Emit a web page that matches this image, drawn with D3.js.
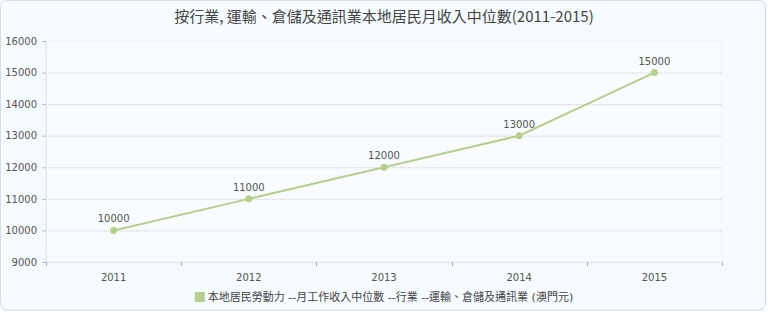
<!DOCTYPE html>
<html><head><meta charset="utf-8">
<script src="https://cdn.jsdelivr.net/npm/d3@7"></script>
<style>
html,body{margin:0;padding:0;background:#fff;}
svg{display:block;font-family:"DejaVu Sans","Noto Sans CJK TC",sans-serif;}
</style></head><body>
<svg id="c" width="768" height="312"></svg>
<script>
const categories = ["2011","2012","2013","2014","2015"];
const values = [10000,11000,12000,13000,15000];
const yTicks = [9000,10000,11000,12000,13000,14000,15000,16000];
const title = "按行業, 運輸、倉儲及通訊業本地居民月收入中位數(2011-2015)";
const seriesName = "本地居民勞動力 --月工作收入中位數 --行業 --運輸、倉儲及通訊業 (澳門元)";

const svg = d3.select("#c");
const W = 768, H = 312;
const m = {l:46, r:46, t:41, b:50};
const color = "#b6cf8e";
const numFont = "DejaVu Sans, sans-serif";

// background card
svg.append("rect").attr("x",0.5).attr("y",0.5).attr("width",W-3).attr("height",H-3)
  .attr("rx",6).attr("fill","#f5fbfe").attr("stroke","#d5dde2");
svg.append("rect").attr("x",3).attr("y",H-3).attr("width",W-8).attr("height",2).attr("fill","#e3e8eb");

const x = d3.scaleBand().domain(categories).range([m.l, W-m.r]);
const y = d3.scaleLinear().domain([9000,16000]).range([H-m.b, m.t]);

// plot background
svg.append("rect").attr("x",m.l).attr("y",m.t).attr("width",W-m.l-m.r).attr("height",H-m.t-m.b)
  .attr("fill","#f8fcfe").attr("stroke","#eef2f4");

// gridlines
svg.append("g").selectAll("line").data(yTicks.slice(1,-1)).join("line")
  .attr("x1",m.l).attr("x2",W-m.r).attr("y1",d=>y(d)+0.5).attr("y2",d=>y(d)+0.5)
  .attr("stroke","#c8c8c8").attr("stroke-dasharray","1,1");

// y axis
const ya = svg.append("g").attr("transform",`translate(${m.l},0)`)
  .call(d3.axisLeft(y).tickValues(yTicks).tickSize(4).tickPadding(5).tickFormat(d3.format("d")));
ya.select(".domain").remove();
ya.selectAll("line").attr("stroke","#bbb");
ya.selectAll("text").attr("fill","#555").attr("font-size",10).attr("font-family",numFont);
// minor ticks
const minor = d3.range(9000,16000,200).filter(v=>v%1000!==0);
svg.append("g").selectAll("line").data(minor).join("line")
  .attr("x1",m.l-1).attr("x2",m.l+1).attr("y1",d=>y(d)+0.5).attr("y2",d=>y(d)+0.5)
  .attr("stroke","#ccc");
svg.append("line").attr("x1",m.l+0.5).attr("x2",m.l+0.5).attr("y1",m.t).attr("y2",H-m.b)
  .attr("stroke","#e4e8ea");

// x axis
const xa = svg.append("g").attr("transform",`translate(0,${H-m.b})`)
  .call(d3.axisBottom(x).tickSize(0).tickPadding(12));
xa.select(".domain").attr("stroke","#e0e4e6");
xa.selectAll("text").attr("fill","#555").attr("font-size",10).attr("font-family",numFont);
const bounds = categories.map(c=>x(c)).concat([x(categories[categories.length-1])+x.bandwidth()]);
svg.append("g").selectAll("line").data(bounds).join("line")
  .attr("x1",d=>Math.round(d)+0.5).attr("x2",d=>Math.round(d)+0.5)
  .attr("y1",H-m.b).attr("y2",H-m.b+4).attr("stroke","#aaa");

// line
const cx = d=>x(d)+x.bandwidth()/2;
svg.append("path").datum(values)
  .attr("d", d3.line().x((d,i)=>cx(categories[i])).y(d=>y(d)))
  .attr("fill","none").attr("stroke",color).attr("stroke-width",2);
svg.append("g").selectAll("circle").data(values).join("circle")
  .attr("cx",(d,i)=>cx(categories[i])).attr("cy",d=>y(d)).attr("r",3.5).attr("fill",color);
svg.append("g").selectAll("text").data(values).join("text")
  .attr("x",(d,i)=>cx(categories[i])).attr("y",d=>y(d)-8)
  .attr("text-anchor","middle").attr("font-size",10).attr("fill","#555")
  .attr("font-family",numFont).text(d=>d);

// title
svg.append("text").attr("x",W/2).attr("y",22).attr("text-anchor","middle")
  .attr("font-size",15).attr("fill","#444")
  .attr("font-family","'Noto Sans CJK TC', sans-serif").text(title);

// legend
const lg = svg.append("g");
const lt = lg.append("text").attr("x",0).attr("y",0).attr("font-size",11).attr("fill","#444").text(seriesName);
const tw = lt.node().getComputedTextLength();
const total = 10 + 3 + tw;
const lx = (W - total)/2, ly = 301;
lg.append("rect").attr("x",lx).attr("y",ly-9).attr("width",10).attr("height",10).attr("fill",color);
lt.attr("x",lx+13).attr("y",ly);
</script>
</body></html>
